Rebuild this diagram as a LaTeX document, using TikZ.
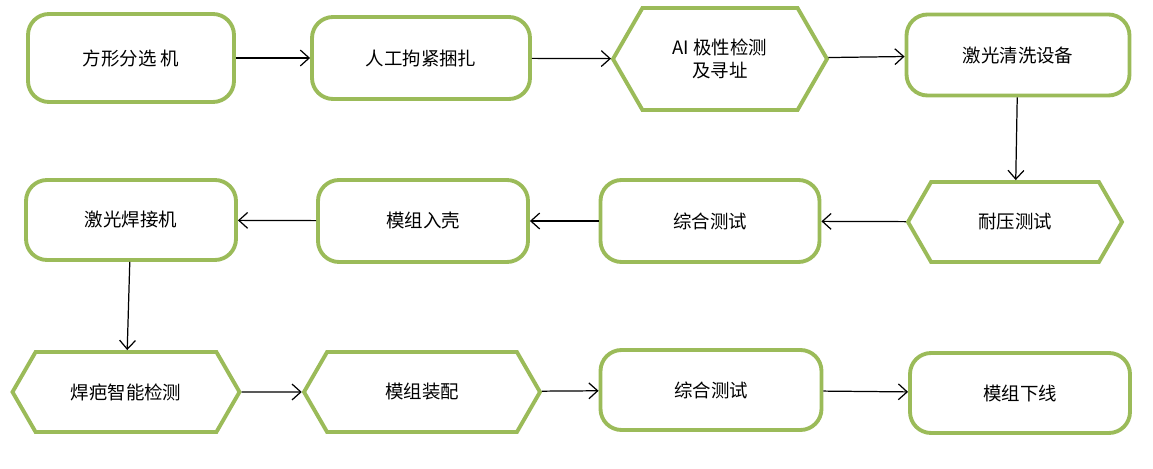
\documentclass[tikz,border=0pt]{standalone}
\usepackage{fontspec}
\setmainfont{Liberation Serif}
\newfontfamily\cjk{Noto Sans CJK SC}
\usetikzlibrary{shapes.symbols,arrows.meta}
\definecolor{gr}{RGB}{155,187,89}
\tikzset{x=0.02cm,y=-0.02cm,
 box/.style={draw=gr,line width=2.2pt,rounded corners=12pt,fill=white,inner sep=0pt,font=\cjk\fontsize{10.5}{13}\selectfont,align=center},
 hexa/.style={draw=gr,line width=2.2pt,shape=signal,signal to=west and east,signal pointer angle=120,fill=white,inner sep=0pt,font=\cjk\fontsize{10.5}{13}\selectfont,align=center},
 arr/.style={-{Straight Barb[length=5pt,width=9pt]},line width=0.7pt}}
\begin{document}
\begin{tikzpicture}
\useasboundingbox (0,0) rectangle (1153,469);
\node[box,minimum width=206*0.02cm,minimum height=88*0.02cm] (a1) at (131,58) {方形分选 机};
\node[box,minimum width=218*0.02cm,minimum height=82*0.02cm] (a2) at (421,58) {人工拘紧捆扎};
\node[hexa,minimum width=214*0.02cm,minimum height=102*0.02cm] (a3) at (720,59) {AI 极性检测\\及寻址};
\node[box,minimum width=223*0.02cm,minimum height=81*0.02cm] (a4) at (1018,55) {激光清洗设备};
\node[hexa,minimum width=214*0.02cm,minimum height=80*0.02cm] (b4) at (1015,222) {耐压测试};
\node[box,minimum width=219*0.02cm,minimum height=82*0.02cm] (b3) at (710,221) {综合测试};
\node[box,minimum width=210*0.02cm,minimum height=82*0.02cm] (b2) at (423,221) {模组入壳};
\node[box,minimum width=210*0.02cm,minimum height=80*0.02cm] (b1) at (131,220) {激光焊接机};
\node[hexa,minimum width=227*0.02cm,minimum height=80*0.02cm] (c1) at (126,392) {焊疤智能检测};
\node[hexa,minimum width=236*0.02cm,minimum height=80*0.02cm] (c2) at (422,392) {模组装配};
\node[box,minimum width=221*0.02cm,minimum height=80*0.02cm] (c3) at (711,390) {综合测试};
\node[box,minimum width=220*0.02cm,minimum height=80*0.02cm] (c4) at (1020,393) {模组下线};
\draw[arr] (a1) -- (a2);
\draw[arr] (a2) -- (a3);
\draw[arr] (a3) -- (a4);
\draw[arr] (a4) -- (b4);
\draw[arr] (b4) -- (b3);
\draw[arr] (b3) -- (b2);
\draw[arr] (b2) -- (b1);
\draw[arr] (b1) -- (c1);
\draw[arr] (c1) -- (c2);
\draw[arr] (c2) -- (c3);
\draw[arr] (c3) -- (c4);
\end{tikzpicture}
\end{document}
